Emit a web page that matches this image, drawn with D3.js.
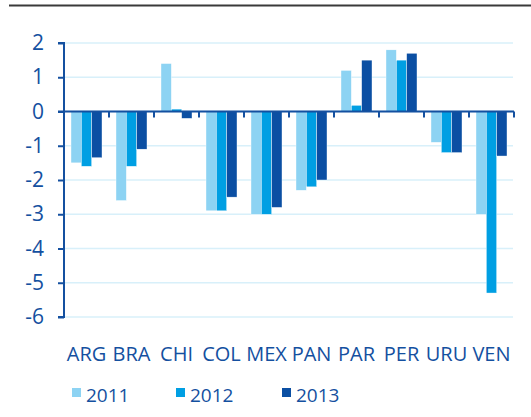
<!DOCTYPE html>
<html>
<head>
<meta charset="utf-8">
<script src="https://cdn.jsdelivr.net/npm/d3@7"></script>
<style>
  body { margin: 0; background: #fff; }
  text { font-family: "Open Sans", sans-serif; fill: #1450a0; font-weight: 500; }
</style>
</head>
<body>
<div class="chart"></div>
<script>
let countries = ['ARG','BRA','CHI','COL','MEX','PAN','PAR','PER','URU','VEN'];
let years = ['2011','2012','2013'];
let v2011 = [-1.5, -2.6, 1.4, -2.9, -3.0, -2.3, 1.2, 1.8, -0.9, -3.0];
let v2012 = [-1.6, -1.6, 0.07, -2.9, -3.0, -2.2, 0.18, 1.5, -1.2, -5.3];
let v2013 = [-1.35, -1.1, -0.2, -2.5, -2.8, -2.0, 1.5, 1.7, -1.2, -1.3];
let yTicks = [2, 1, 0, -1, -2, -3, -4, -5, -6];

let colors = {'2011':'#8dd3f3','2012':'#009fe3','2013':'#0b4fa3'};
let axisColor = '#1450a0';

let w = 531, h = 417;

let svg = d3.select(".chart")
  .append("svg")
  .attr('width', w)
  .attr('height', h);

// top rule
svg.append('line')
  .attr('x1', 9).attr('x2', w)
  .attr('y1', 5.5).attr('y2', 5.5)
  .attr('stroke', '#3a3a3a')
  .attr('stroke-width', 2);

let x = d3.scaleBand()
  .domain(countries)
  .range([64, 514]);

let xInner = d3.scaleBand()
  .domain(years)
  .range([7, 38]);

let y = d3.scaleLinear()
  .domain([-6, 2])
  .range([317, 43]);

// gridlines
svg.selectAll('.grid')
  .data(yTicks)
  .enter()
  .append('line')
    .attr('x1', 64).attr('x2', 513)
    .attr('y1', d => y(d)).attr('y2', d => y(d))
    .attr('stroke', '#d8f0fa')
    .attr('stroke-width', 1.5);

let table = countries.map(function(c, i){
  return {country: c, values: [
    {year:'2011', v:v2011[i]},
    {year:'2012', v:v2012[i]},
    {year:'2013', v:v2013[i]}
  ]};
});

let groups = svg.selectAll('.grp')
  .data(table)
  .enter()
  .append('g')
  .attr('transform', d => 'translate(' + x(d.country) + ',0)');

groups.selectAll('rect')
  .data(d => d.values)
  .enter()
  .append('rect')
    .attr('x', d => xInner(d.year))
    .attr('width', xInner.bandwidth())
    .attr('y', d => y(Math.max(0, d.v)))
    .attr('height', d => Math.abs(y(d.v) - y(0)))
    .attr('fill', d => colors[d.year])
    .attr('stroke', '#ffffff')
    .attr('stroke-width', 0.4);

// y axis (plain hyphen for minus, as in the original)
let yAxis = d3.axisLeft(y).tickValues(yTicks).tickSize(6).tickPadding(14)
  .tickFormat(d => String(d));
let yAxisGroup = svg.append('g')
  .attr('transform', 'translate(64,0)')
  .call(yAxis);
yAxisGroup.select('.domain').attr('stroke', axisColor).attr('stroke-width', 2)
  .attr('d', 'M-6,' + y(2) + 'H0V' + y(-6) + 'H-6');
yAxisGroup.selectAll('.tick line').attr('stroke', axisColor).attr('stroke-width', 2);
yAxisGroup.selectAll('.tick text')
  .style('font-size', '21px')
  .style('font-weight', 500)
  .attr('fill', axisColor);

// zero line with ticks at category boundaries
let bounds = countries.map(c => x(c) + x.bandwidth());
svg.append('line')
  .attr('x1', 58).attr('x2', 514)
  .attr('y1', y(0)).attr('y2', y(0))
  .attr('stroke', axisColor)
  .attr('stroke-width', 2);
svg.selectAll('.xtick')
  .data(bounds)
  .enter()
  .append('line')
    .attr('x1', d => d).attr('x2', d => d)
    .attr('y1', y(0)).attr('y2', y(0) + 6)
    .attr('stroke', axisColor)
    .attr('stroke-width', 2);

// category labels
svg.selectAll('.clabel')
  .data(countries)
  .enter()
  .append('text')
    .attr('x', d => x(d) + x.bandwidth() / 2)
    .attr('y', 361)
    .attr('text-anchor', 'middle')
    .style('font-size', '20px')
    .text(d => d);

// legend
let legendX = [72, 176, 282];
let legend = svg.selectAll('.leg')
  .data(years)
  .enter()
  .append('g')
  .attr('transform', (d, i) => 'translate(' + legendX[i] + ',0)');
legend.append('rect')
  .attr('x', 0).attr('y', 388)
  .attr('width', 9).attr('height', 9)
  .attr('fill', d => colors[d]);
legend.append('text')
  .attr('x', 14).attr('y', 402)
  .style('font-size', '19px')
  .text(d => d);
</script>
</body>
</html>
